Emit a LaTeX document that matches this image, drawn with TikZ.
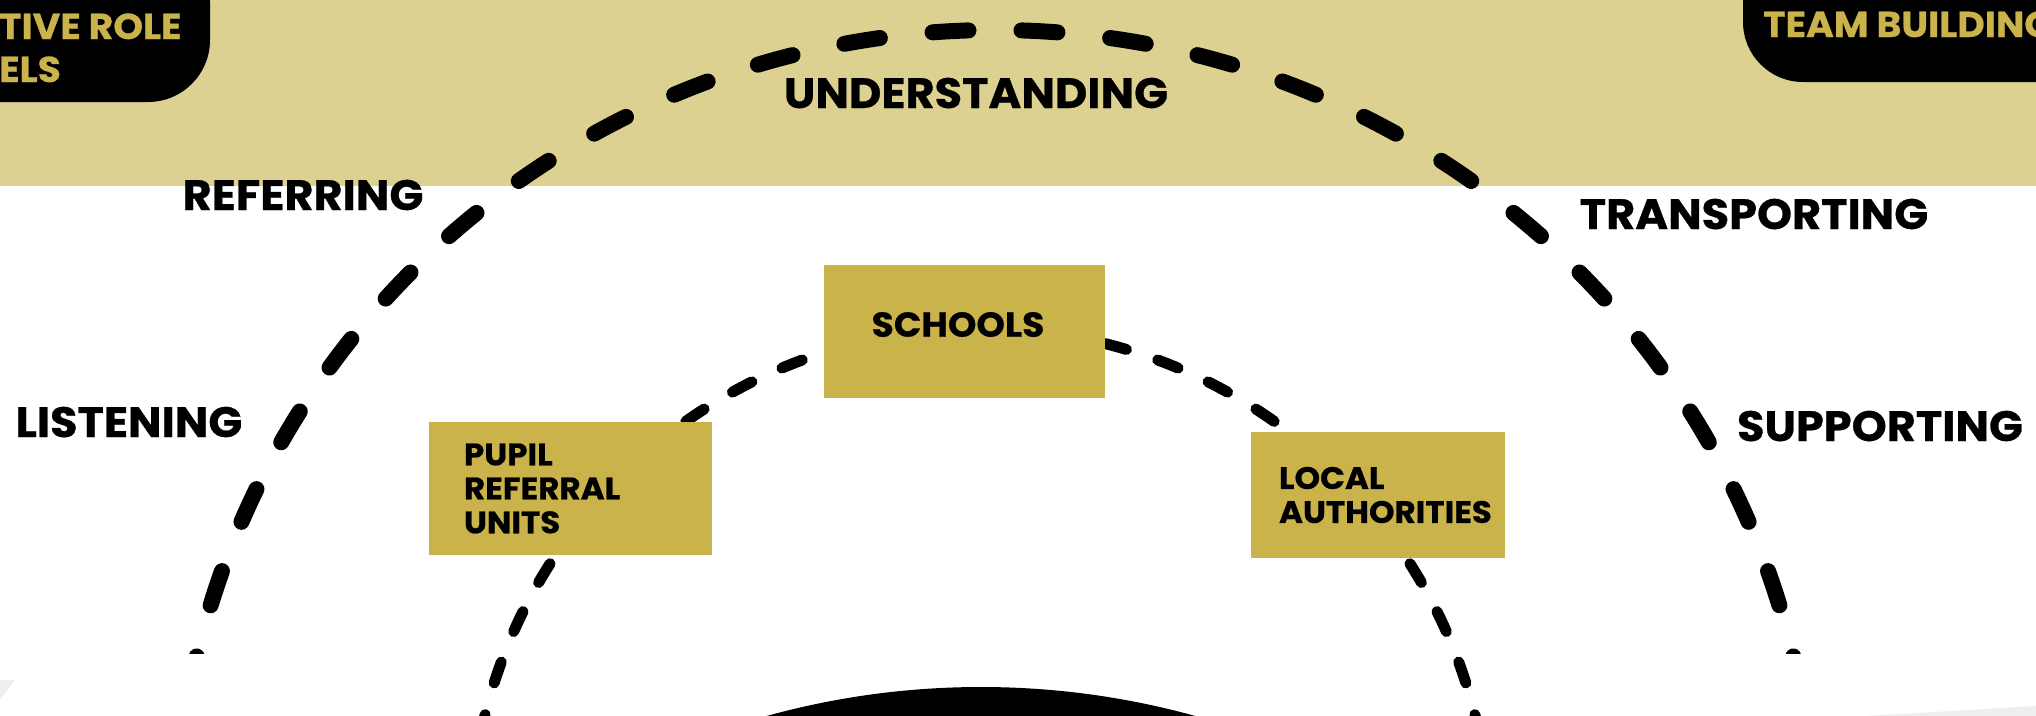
\documentclass[tikz,border=0pt]{standalone}
\usepackage{fontspec}
\setmainfont{Poppins}[BoldFeatures={FakeStretch=1.05, FakeBold=0.6}]
\definecolor{band}{RGB}{221,209,146}
\definecolor{gold}{RGB}{201,179,74}
\definecolor{haze}{RGB}{238,238,238}
\begin{document}
\begin{tikzpicture}[x=1pt,y=-1pt,
  lbl/.style={font=\fontsize{42.5}{42.5}\selectfont\bfseries, inner sep=0pt, anchor=base},
  partner/.style={fill=gold, draw=none, inner sep=0pt},
  boxtext/.style={font=\fontsize{31}{34}\selectfont\bfseries, align=left, inner sep=0pt, anchor=west},
  pilltext/.style={font=\fontsize{36}{36}\selectfont\bfseries, text=gold, inner sep=0pt, anchor=base west},
  outerring/.style={line width=16pt, line cap=round, dash pattern=on 36pt off 53pt, dash phase=62.5pt},
  innerring/.style={line width=11pt, line cap=round, dash pattern=on 22pt off 33pt, dash phase=38.5pt}]
\useasboundingbox (0,0) rectangle (2036,715);
\clip (0,0) rectangle (2036,715);

% header band and the two black tabs
\fill[band] (0,0) rectangle (2036,186);
\fill[black, rounded corners=62pt] (-120,-60) rectangle (210,102);
\fill[black, rounded corners=60pt] (1743,-60) rectangle (2140,82);
\node[pilltext] (roletop) at (-1,39) {TIVE ROLE};
\node[pilltext] (rolebot) at (-1,82) {ELS};
\node[pilltext] (team) at (1763,37) {TEAM BUILDING};

% faint shading in the lower corners
\fill[haze] (0,680) -- (15,680) -- (0,700) -- cycle;
\fill[haze] (1866,716) -- (2036,706) -- (2036,716) -- cycle;

% outer dashed ring
\begin{scope}
  \clip (0,0) rectangle (2036,653);
  \coordinate (otop) at (995,30);
  \draw[outerring] (otop) arc[start angle=90, end angle=185, x radius=820pt, y radius=812pt];
  \draw[outerring] (otop) arc[start angle=90, end angle=-5, x radius=820pt, y radius=812pt];
\end{scope}

% inner dashed ring
\coordinate (itop) at (980,328);
\draw[innerring] (itop) arc[start angle=90, end angle=185, radius=510pt];
\draw[innerring] (itop) arc[start angle=90, end angle=-5, radius=510pt];

% black hub at the bottom
\fill[black] (981,1488) circle[radius=801pt];

% partner boxes
\node[partner, minimum width=281pt, minimum height=133pt] (schools) at (964.5,331.5) {};
\node[partner, minimum width=283pt, minimum height=133pt] (pru) at (570.5,488.5) {};
\node[partner, minimum width=254pt, minimum height=126pt] (la) at (1378,495) {};
\node[font=\fontsize{34.5}{34.5}\selectfont\bfseries, inner sep=0pt] (schoolstext) at ([shift={(-6.5,-7)}]schools.center) {SCHOOLS};
\node[boxtext] (prutext) at ([xshift=35pt]pru.west) {PUPIL\\REFERRAL\\UNITS};
\node[boxtext] (latext) at ([xshift=28pt]la.west) {LOCAL\\AUTHORITIES};

% qualities around the ring
\node[lbl] (understanding) at (976,108) {UNDERSTANDING};
\node[lbl] (referring) at (303,210) {REFERRING};
\node[lbl] (transporting) at (1754,229) {TRANSPORTING};
\node[lbl] (listening) at (129,437) {LISTENING};
\node[lbl] (supporting) at (1880,441) {SUPPORTING};
\end{tikzpicture}
\end{document}
